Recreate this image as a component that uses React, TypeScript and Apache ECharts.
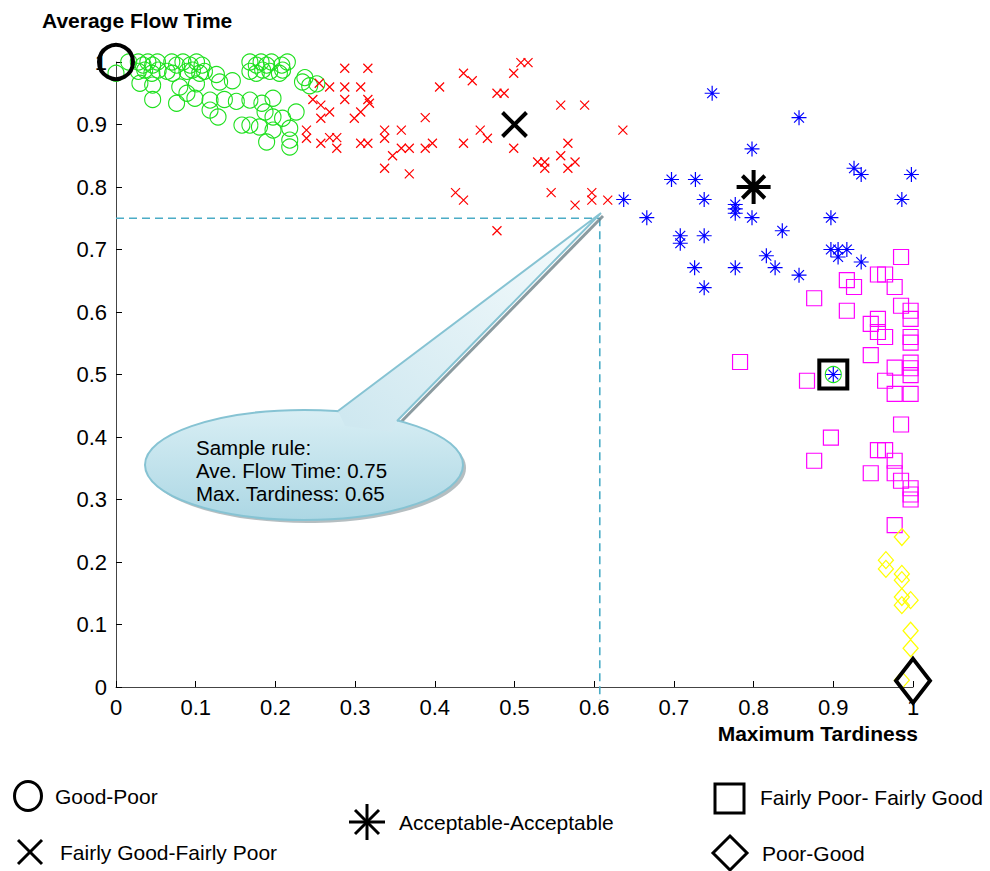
import React, { useEffect, useRef } from "react";
import * as echarts from "echarts";

// ---- data (Maximum Tardiness, Average Flow Time) ----
const goodPoor: [number, number][] = [
  [0.0, 0.982],
  [0.016, 1.0], [0.028, 1.0], [0.034, 0.995], [0.04, 1.0], [0.046, 0.995], [0.052, 1.0],
  [0.07, 1.0], [0.076, 0.995], [0.084, 1.0], [0.093, 0.995], [0.101, 1.0], [0.108, 0.995],
  [0.168, 1.0], [0.176, 0.995], [0.182, 1.0], [0.189, 0.995], [0.195, 1.0], [0.208, 0.995], [0.215, 1.0],
  [0.028, 0.985], [0.036, 0.987], [0.045, 0.982], [0.053, 0.987], [0.064, 0.985], [0.071, 0.982],
  [0.089, 0.985], [0.096, 0.987], [0.105, 0.982], [0.111, 0.985], [0.126, 0.98], [0.168, 0.985],
  [0.176, 0.982], [0.184, 0.987], [0.193, 0.985], [0.205, 0.982], [0.209, 0.987], [0.237, 0.975],
  [0.03, 0.966], [0.046, 0.963], [0.08, 0.96], [0.101, 0.965], [0.13, 0.968], [0.146, 0.97],
  [0.234, 0.968], [0.243, 0.962], [0.252, 0.965],
  [0.046, 0.94], [0.076, 0.934], [0.089, 0.95], [0.099, 0.942], [0.118, 0.939], [0.136, 0.94],
  [0.151, 0.937], [0.168, 0.939], [0.183, 0.934], [0.197, 0.942],
  [0.118, 0.923], [0.128, 0.912], [0.187, 0.92], [0.197, 0.912], [0.209, 0.91], [0.226, 0.92],
  [0.158, 0.899], [0.168, 0.899], [0.18, 0.896], [0.197, 0.891], [0.218, 0.894],
  [0.189, 0.872], [0.218, 0.875], [0.218, 0.864],
  [0.9, 0.5],
];

const fairlyGoodFairlyPoor: [number, number][] = [
  [0.287, 0.99], [0.316, 0.99], [0.255, 0.966], [0.268, 0.96], [0.287, 0.96], [0.307, 0.96],
  [0.247, 0.94], [0.257, 0.931], [0.287, 0.94], [0.316, 0.94], [0.318, 0.934], [0.307, 0.92],
  [0.268, 0.92], [0.257, 0.91], [0.299, 0.91], [0.239, 0.891], [0.239, 0.878], [0.257, 0.87],
  [0.268, 0.879], [0.277, 0.879], [0.277, 0.862], [0.307, 0.87], [0.316, 0.87], [0.337, 0.891],
  [0.337, 0.878], [0.358, 0.891], [0.347, 0.85], [0.358, 0.862], [0.368, 0.862], [0.337, 0.83],
  [0.368, 0.821], [0.388, 0.911], [0.388, 0.862], [0.397, 0.87], [0.406, 0.96], [0.436, 0.982],
  [0.447, 0.97], [0.436, 0.87], [0.457, 0.891], [0.466, 0.878], [0.426, 0.791], [0.436, 0.779],
  [0.478, 0.73], [0.478, 0.95], [0.487, 0.95], [0.499, 0.982], [0.508, 0.999], [0.517, 0.999],
  [0.499, 0.862], [0.529, 0.84], [0.538, 0.84], [0.538, 0.83], [0.558, 0.931], [0.588, 0.931],
  [0.567, 0.87], [0.558, 0.85], [0.576, 0.84], [0.567, 0.83], [0.546, 0.791], [0.576, 0.771],
  [0.597, 0.791], [0.597, 0.779], [0.617, 0.779], [0.636, 0.891],
];

const acceptableAcceptable: [number, number][] = [
  [0.748, 0.95], [0.857, 0.911], [0.798, 0.861], [0.926, 0.83], [0.935, 0.82], [0.998, 0.82],
  [0.697, 0.812], [0.727, 0.812], [0.637, 0.78], [0.738, 0.78], [0.777, 0.772], [0.777, 0.765],
  [0.777, 0.758], [0.798, 0.751], [0.986, 0.78], [0.666, 0.751], [0.897, 0.751], [0.708, 0.722],
  [0.708, 0.71], [0.738, 0.722], [0.836, 0.73], [0.816, 0.69], [0.827, 0.671], [0.857, 0.659],
  [0.726, 0.671], [0.777, 0.671], [0.738, 0.639], [0.897, 0.7], [0.906, 0.7], [0.917, 0.7],
  [0.906, 0.688], [0.935, 0.68], [0.9, 0.5],
];

const fairlyPoorFairlyGood: [number, number][] = [
  [0.985, 0.688], [0.917, 0.651], [0.926, 0.64], [0.956, 0.66], [0.965, 0.66], [0.977, 0.64],
  [0.876, 0.622], [0.917, 0.602], [0.985, 0.61], [0.997, 0.602], [0.997, 0.589], [0.956, 0.589],
  [0.947, 0.581], [0.956, 0.568], [0.965, 0.56], [0.997, 0.56], [0.997, 0.551], [0.947, 0.531],
  [0.997, 0.519], [0.997, 0.51], [0.977, 0.511], [0.997, 0.499], [0.867, 0.49], [0.965, 0.49],
  [0.977, 0.469], [0.997, 0.469], [0.985, 0.42], [0.897, 0.399], [0.956, 0.379], [0.965, 0.379],
  [0.876, 0.362], [0.977, 0.362], [0.977, 0.342], [0.947, 0.342], [0.985, 0.33], [0.997, 0.318],
  [0.997, 0.308], [0.997, 0.3], [0.977, 0.259], [0.783, 0.52],
];

const poorGood: [number, number][] = [
  [0.986, 0.24], [0.966, 0.203], [0.966, 0.189], [0.986, 0.181], [0.986, 0.171], [0.986, 0.144],
  [0.986, 0.131], [0.997, 0.139], [0.997, 0.09], [0.997, 0.062], [0.986, 0.011],
];

// representative points of each class
const repGoodPoor: [number, number][] = [[0, 1]];
const repFairlyGoodFairlyPoor: [number, number][] = [[0.5, 0.9]];
const repAcceptable: [number, number][] = [[0.8, 0.8]];
const repFairlyPoorFairlyGood: [number, number][] = [[0.9, 0.5]];
const repPoorGood: [number, number][] = [[1.0, 0.01]];

// sample rule guide lines
const sampleRuleH: [number, number][] = [[0, 0.75], [0.607, 0.75]];
const sampleRuleV: [number, number][] = [[0.607, 0.75], [0.607, -0.02]];

const legendNames = [
  "Good-Poor",
  "Fairly Good-Fairly Poor",
  "Acceptable-Acceptable",
  "Fairly Poor- Fairly Good",
  "Poor-Good",
];
const calloutLines = ["Sample rule:", "Ave. Flow Time: 0.75", "Max. Tardiness: 0.65"];
const xAxisTitle = "Maximum Tardiness";
const yAxisTitle = "Average Flow Time";

const FONT = "'Liberation Sans', Arial, Helvetica, sans-serif";
const X_PATH = "path://M0,0L10,10M10,0L0,10";
const STAR_PATH = "path://M5,0L5,10M0,5L10,5M1.7,1.7L8.3,8.3M8.3,1.7L1.7,8.3";

function hollow(color: string, width: number) {
  return { color: "rgba(0,0,0,0)", borderColor: color, borderWidth: width, opacity: 1 };
}

export default function App() {
  const ref = useRef<HTMLDivElement>(null);
  useEffect(() => {
    document.body.style.margin = "0";
    const chart = echarts.init(ref.current!, null, { renderer: "svg" });
    const fmt = (v: number) => String(+v.toFixed(1));
    const axisCommon = {
      type: "value" as const,
      min: 0,
      max: 1,
      interval: 0.1,
      axisLine: { show: true, onZero: false, lineStyle: { color: "#444", width: 1 } },
      axisTick: { show: true, inside: true, length: 6, lineStyle: { color: "#000", width: 1 } },
      axisLabel: {
        fontSize: 22,
        color: "#000",
        fontFamily: FONT,
        margin: 9,
        formatter: fmt,
        showMinLabel: true,
        showMaxLabel: true,
      },
      splitLine: { show: false },
    };
    const scatterBase = {
      type: "scatter" as const,
      clip: false,
      silent: true,
      emphasis: { disabled: true },
    };
    const dashStyle = { color: "#4bacc6", width: 1.6, type: [8, 5] as any };
    const calloutFill = {
      type: "linear",
      x: 0, y: 0, x2: 0, y2: 1,
      colorStops: [
        { offset: 0, color: "#d8eef4" },
        { offset: 1, color: "#acd7e4" },
      ],
    };
    const tailFill = {
      type: "linear",
      x: 1, y: 0, x2: 0.1, y2: 1,
      colorStops: [
        { offset: 0, color: "#f8fcfd" },
        { offset: 1, color: "#cfe8f0" },
      ],
    };
    const txt = (x: number, y: number, text: string, size: number, weight = "normal", align = "left") => ({
      type: "text",
      x,
      y,
      z: 20,
      style: {
        text,
        fontSize: size,
        fontFamily: FONT,
        fontWeight: weight,
        fill: "#000",
        align,
        verticalAlign: "middle",
      },
    });
    const blackLine = (x1: number, y1: number, x2: number, y2: number) => ({
      type: "line",
      z: 20,
      shape: { x1, y1, x2, y2 },
      style: { stroke: "#000", lineWidth: 3 },
    });

    const option: any = {
      animation: false,
      backgroundColor: "#fff",
      grid: { left: 116, top: 62, right: 77, bottom: 184, containLabel: false },
      xAxis: axisCommon,
      yAxis: axisCommon,
      series: [
        {
          type: "line",
          data: sampleRuleH,
          symbol: "none",
          clip: false,
          silent: true,
          lineStyle: dashStyle,
          z: 1,
        },
        {
          type: "line",
          data: sampleRuleV,
          symbol: "none",
          clip: false,
          silent: true,
          lineStyle: dashStyle,
          z: 1,
        },
        { ...scatterBase, name: legendNames[0], data: goodPoor, symbol: "circle", symbolSize: 16, itemStyle: hollow("#1fe01f", 1.1) },
        { ...scatterBase, name: legendNames[1], data: fairlyGoodFairlyPoor, symbol: X_PATH, symbolSize: 9, itemStyle: hollow("#ff0000", 1.2) },
        { ...scatterBase, name: legendNames[2], data: acceptableAcceptable, symbol: STAR_PATH, symbolSize: 15, itemStyle: hollow("#0000ff", 1.2) },
        { ...scatterBase, name: legendNames[3], data: fairlyPoorFairlyGood, symbol: "rect", symbolSize: 15, itemStyle: hollow("#ff00ff", 1.2) },
        { ...scatterBase, name: legendNames[4], data: poorGood, symbol: "diamond", symbolSize: [15, 17], itemStyle: hollow("#ffff00", 1.3) },
        { ...scatterBase, data: repGoodPoor, symbol: "circle", symbolSize: 34, itemStyle: hollow("#000", 4), z: 5 },
        { ...scatterBase, data: repFairlyGoodFairlyPoor, symbol: X_PATH, symbolSize: 24, itemStyle: hollow("#000", 4), z: 5 },
        { ...scatterBase, data: repAcceptable, symbol: STAR_PATH, symbolSize: 34, itemStyle: hollow("#000", 4), z: 5 },
        { ...scatterBase, data: repFairlyPoorFairlyGood, symbol: "rect", symbolSize: 28, itemStyle: hollow("#000", 4), z: 5 },
        { ...scatterBase, data: repPoorGood, symbol: "diamond", symbolSize: [34, 44], itemStyle: hollow("#000", 4), z: 5 },
      ],
      graphic: [
        // axis titles
        txt(42, 20, yAxisTitle, 21, "bold"),
        txt(918, 733, xAxisTitle, 21, "bold", "right"),
        // callout shadow
        {
          type: "ellipse",
          z: 3,
          shape: { cx: 307, cy: 468, rx: 159, ry: 55 },
          style: { fill: "rgba(90,110,118,0.45)" },
        },
        {
          type: "line",
          z: 3,
          shape: { x1: 603, y1: 216, x2: 399, y2: 424 },
          style: { stroke: "rgba(110,130,136,0.8)", lineWidth: 3 },
        },
        // callout body
        {
          type: "ellipse",
          z: 4,
          shape: { cx: 304, cy: 465, rx: 159, ry: 55 },
          style: { fill: calloutFill, stroke: "#86c3d3", lineWidth: 2 },
        },
        {
          type: "polygon",
          z: 5,
          shape: { points: [[338, 411], [601, 213], [397, 421], [392, 432], [345, 426]] },
          style: { fill: tailFill },
        },
        {
          type: "polyline",
          z: 6,
          shape: { points: [[338, 411], [601, 213], [397, 421]] },
          style: { stroke: "#86c3d3", lineWidth: 2, fill: "none" },
        },
        txt(196, 447, calloutLines[0], 20.5),
        txt(196, 470, calloutLines[1], 20.5),
        txt(196, 493, calloutLines[2], 20.5),
        // legend
        {
          type: "ellipse",
          z: 20,
          shape: { cx: 28, cy: 796, rx: 13.5, ry: 14.5 },
          style: { fill: "none", stroke: "#000", lineWidth: 3 },
        },
        txt(55, 796, legendNames[0], 21),
        blackLine(18, 840, 42, 864),
        blackLine(42, 840, 18, 864),
        txt(60, 852, legendNames[1], 21),
        blackLine(367, 804, 367, 840),
        blackLine(349, 822, 385, 822),
        blackLine(355, 810, 379, 834),
        blackLine(379, 810, 355, 834),
        txt(399, 822, legendNames[2], 21),
        {
          type: "rect",
          z: 20,
          shape: { x: 715, y: 784, width: 29, height: 29 },
          style: { fill: "none", stroke: "#000", lineWidth: 3 },
        },
        txt(760, 797, legendNames[3], 21),
        {
          type: "polygon",
          z: 20,
          shape: { points: [[730, 836], [747, 853], [730, 870], [713, 853]] },
          style: { fill: "none", stroke: "#000", lineWidth: 3 },
        },
        txt(762, 853, legendNames[4], 21),
      ],
    };
    chart.setOption(option);
    return () => chart.dispose();
  }, []);
  return <div ref={ref} style={{ width: 990, height: 871 }} />;
}
